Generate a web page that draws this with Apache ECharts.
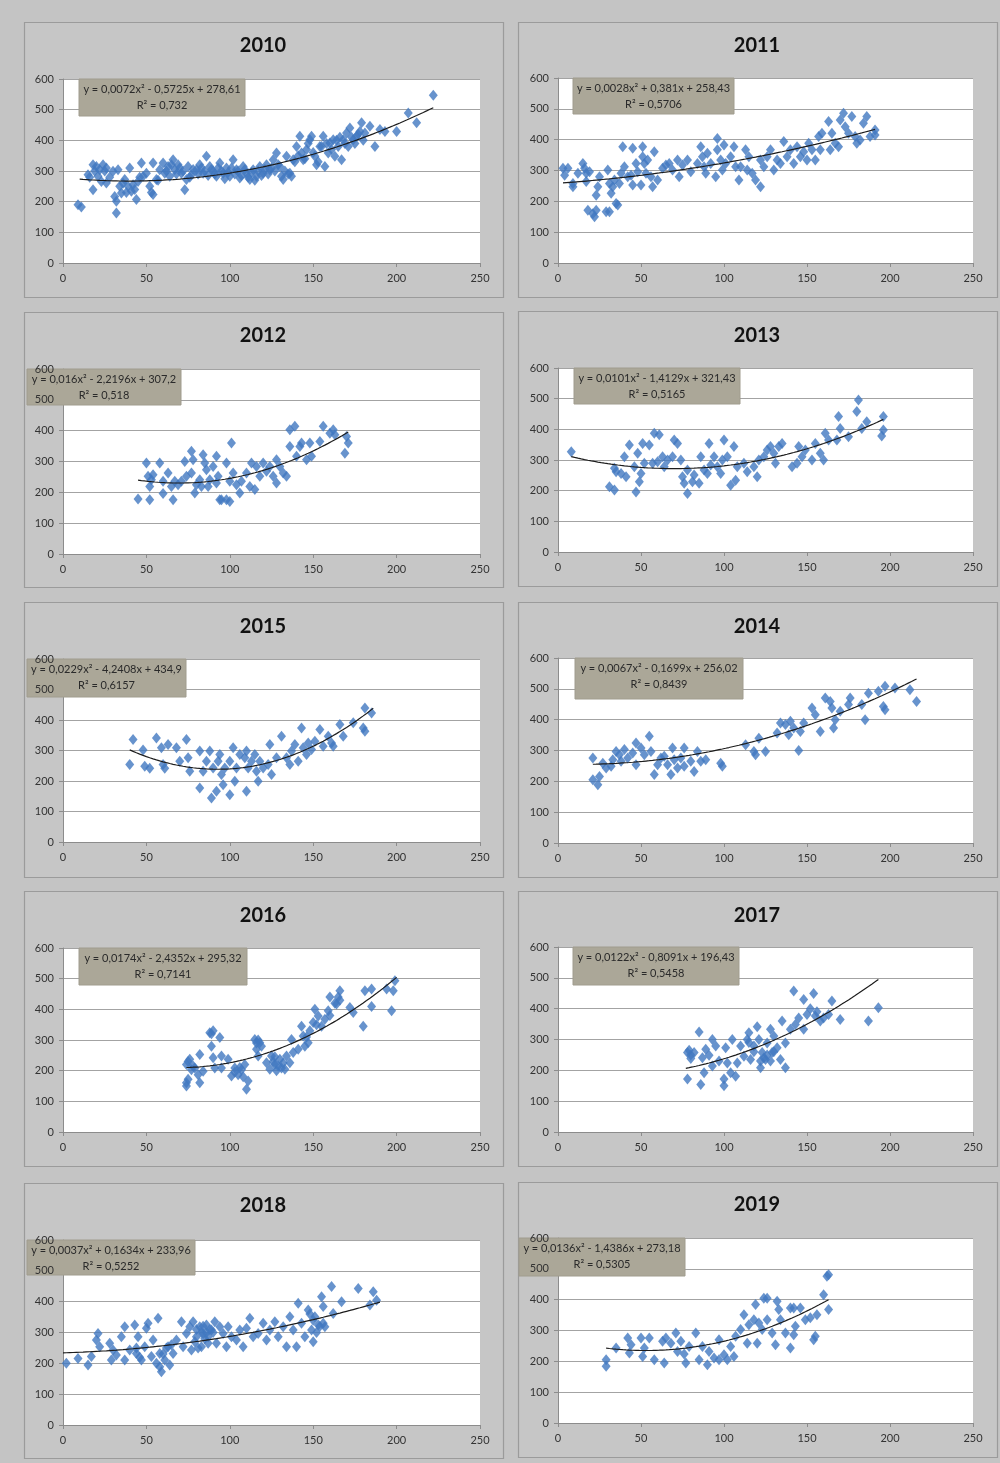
<!DOCTYPE html>
<html><head><meta charset="utf-8">
<script src="https://cdn.jsdelivr.net/npm/echarts@6/dist/echarts.min.js"></script>
<style>html,body{margin:0;padding:0;background:#c4c4c4}#c{width:1000px;height:1463px}</style>
</head><body><div id="c"></div>
<script>
// ---------------- DATA ----------------
const years = ['2010','2011','2012','2013','2015','2014','2016','2017','2018','2019'];
const xTicks = [0, 50, 100, 150, 200, 250];
const yTicks = [0, 100, 200, 300, 400, 500, 600];

// quadratic trend coefficients y = a x^2 + b x + c (as printed)
const coefA = [0.0072, 0.0028, 0.016, 0.0101, 0.0229, 0.0067, 0.0174, 0.0122, 0.0037, 0.0136];
const coefB = [-0.5725, 0.381, -2.2196, -1.4129, -4.2408, -0.1699, -2.4352, -0.8091, 0.1634, -1.4386];
const coefC = [278.61, 258.43, 307.2, 321.43, 434.9, 256.02, 295.32, 196.43, 233.96, 273.18];
const rSquared = ['0,732', '0,5706', '0,518', '0,5165', '0,6157', '0,8439', '0,7141', '0,5458', '0,5252', '0,5305'];
const fitFrom = [10, 3, 45, 8, 40, 21, 74, 77, 0, 29];
const fitTo = [222, 191, 171, 196, 186, 216, 200, 193, 190, 163];

const pts2010 = [[9,190],[11,183],[15,288],[16,280],[18,320],[18,239],[19,300],[20,315],[21,283],[22,304],[23,266],[24,320],[25,300],[26,261],[26,310],[28,280],[30,299],[31,217],[32,201],[32,163],[33,304],[34,250],[35,228],[36,260],[37,272],[38,230],[39,250],[40,310],[41,234],[42,255],[43,240],[44,207],[45,266],[46,280],[47,326],[48,283],[50,293],[52,250],[53,230],[54,223],[54,326],[56,272],[57,270],[58,304],[60,326],[61,293],[62,300],[63,315],[64,283],[65,320],[66,337],[67,304],[68,290],[69,320],[70,310],[71,293],[72,300],[73,239],[74,272],[75,315],[76,280],[77,288],[78,305],[80,304],[81,290],[82,320],[83,310],[84,293],[85,300],[86,348],[87,285],[88,315],[89,305],[90,299],[91,290],[92,283],[93,310],[94,326],[95,300],[96,293],[97,275],[98,310],[99,295],[100,283],[101,310],[102,337],[103,290],[104,304],[105,300],[106,277],[107,285],[108,315],[109,305],[110,293],[111,280],[112,272],[113,295],[114,304],[115,270],[116,283],[117,300],[118,315],[119,285],[120,293],[121,305],[122,320],[123,290],[124,304],[125,310],[126,337],[127,300],[128,359],[129,320],[130,315],[131,283],[132,272],[133,300],[134,348],[135,290],[136,293],[137,283],[138,337],[139,330],[140,380],[141,350],[142,413],[143,359],[144,337],[145,340],[146,370],[147,390],[148,402],[149,413],[150,360],[151,348],[152,320],[153,330],[154,380],[155,380],[156,413],[157,315],[158,390],[159,359],[160,391],[161,370],[162,402],[163,348],[164,400],[165,380],[166,410],[167,337],[168,402],[169,390],[170,424],[171,380],[172,440],[173,410],[174,402],[175,390],[176,413],[177,420],[178,429],[179,457],[180,400],[181,424],[184,446],[187,380],[190,435],[193,429],[200,429],[207,489],[212,457],[222,547]];
const pts2011 = [[3,307],[4,285],[6,307],[9,247],[9,258],[12,291],[15,323],[16,307],[17,291],[17,264],[18,171],[19,296],[21,160],[22,150],[23,171],[23,220],[24,247],[25,280],[29,166],[31,166],[30,302],[31,258],[32,226],[33,247],[34,269],[35,193],[36,188],[37,258],[38,291],[39,377],[40,312],[42,280],[44,285],[45,372],[45,253],[47,323],[48,296],[50,253],[51,377],[51,345],[52,323],[53,291],[54,334],[56,280],[57,247],[58,361],[60,269],[63,307],[65,318],[67,323],[69,302],[72,334],[73,280],[75,318],[78,334],[80,296],[84,323],[86,377],[87,345],[88,312],[89,291],[90,356],[92,323],[95,280],[96,404],[96,367],[98,334],[99,302],[100,383],[101,323],[104,345],[106,377],[107,312],[109,269],[110,312],[113,367],[114,302],[115,345],[117,291],[119,269],[122,247],[122,334],[124,312],[126,345],[128,367],[130,302],[132,334],[134,323],[136,394],[138,345],[140,367],[142,323],[144,377],[146,345],[148,361],[150,334],[151,388],[153,367],[155,334],[157,410],[158,367],[159,421],[163,459],[164,367],[165,421],[167,388],[169,377],[170,464],[172,486],[173,442],[175,421],[177,475],[179,410],[180,388],[182,399],[184,453],[186,475],[188,410],[191,431],[191,415]];
const pts2012 = [[45,178],[50,295],[51,252],[52,219],[52,176],[53,241],[54,257],[58,295],[60,236],[60,196],[63,263],[65,219],[66,176],[67,236],[69,225],[71,236],[73,300],[74,252],[77,333],[77,263],[78,306],[79,198],[80,225],[82,241],[83,219],[84,322],[85,295],[86,273],[87,219],[88,241],[90,284],[92,317],[92,230],[93,252],[94,176],[95,176],[98,176],[98,295],[100,170],[100,236],[101,360],[102,263],[104,225],[106,198],[107,236],[110,263],[112,219],[113,295],[115,209],[116,284],[118,252],[120,295],[122,268],[124,284],[126,252],[128,230],[128,306],[130,284],[132,263],[134,252],[136,349],[136,403],[139,414],[140,317],[142,349],[143,360],[146,306],[148,360],[149,317],[154,365],[156,414],[160,392],[162,403],[163,387],[169,327],[170,381],[171,360]];
const pts2013 = [[8,327],[31,213],[34,202],[34,273],[35,262],[38,256],[40,311],[41,245],[43,349],[46,278],[47,196],[48,322],[49,229],[50,256],[51,354],[52,289],[55,349],[57,289],[58,387],[60,294],[61,382],[63,311],[64,278],[66,300],[69,311],[70,365],[72,354],[74,300],[75,245],[76,224],[78,191],[78,267],[81,229],[82,251],[85,224],[86,311],[88,267],[90,256],[91,354],[92,284],[94,311],[96,278],[98,256],[99,300],[100,365],[102,311],[104,218],[106,344],[107,234],[108,278],[112,289],[114,262],[118,278],[120,245],[121,300],[124,311],[126,333],[128,344],[130,322],[131,289],[133,344],[135,354],[141,278],[144,289],[145,344],[147,311],[149,333],[153,300],[155,354],[158,322],[160,300],[161,387],[163,365],[168,365],[169,442],[170,403],[175,376],[180,458],[181,496],[183,403],[186,425],[196,442],[196,398],[195,378]];
const pts2015 = [[40,254],[42,336],[48,302],[49,248],[52,242],[56,341],[59,309],[60,254],[61,242],[63,320],[68,309],[70,265],[74,336],[75,276],[76,232],[82,298],[82,177],[84,232],[86,265],[88,298],[89,144],[90,243],[92,166],[93,265],[94,287],[95,221],[96,188],[97,243],[100,155],[100,265],[102,309],[103,199],[104,243],[106,287],[109,276],[110,298],[110,166],[111,243],[113,265],[115,287],[116,232],[117,199],[118,265],[120,243],[123,254],[124,320],[125,221],[128,276],[131,347],[134,276],[136,254],[137,298],[139,320],[141,265],[143,374],[144,309],[146,287],[147,325],[149,303],[151,330],[154,369],[156,314],[159,347],[161,325],[162,314],[166,385],[168,347],[174,391],[180,374],[181,363],[181,439],[185,423]];
const pts2014 = [[21,276],[21,205],[24,189],[25,216],[27,259],[29,243],[32,249],[33,270],[35,297],[37,286],[38,265],[40,303],[42,276],[45,292],[47,324],[47,254],[50,308],[52,286],[55,346],[56,297],[58,222],[60,254],[62,276],[64,281],[66,254],[68,222],[69,308],[70,270],[72,243],[74,276],[76,308],[76,249],[80,265],[82,232],[84,297],[86,265],[89,270],[98,259],[99,249],[113,319],[118,297],[119,286],[121,340],[125,297],[132,357],[134,389],[137,384],[139,351],[140,395],[142,373],[145,300],[146,362],[148,389],[153,438],[155,416],[158,362],[161,470],[164,459],[165,438],[166,373],[167,400],[170,427],[175,449],[176,470],[183,449],[185,400],[187,486],[193,492],[196,443],[197,432],[197,508],[203,503],[212,497],[216,459]];
const pts2016 = [[74,220],[74,161],[75,172],[76,237],[77,203],[79,209],[81,187],[82,253],[82,161],[84,198],[88,324],[89,280],[90,242],[91,209],[94,308],[95,248],[95,209],[99,237],[101,183],[103,209],[105,187],[107,203],[109,220],[110,139],[111,166],[115,302],[116,270],[117,248],[118,291],[122,226],[124,205],[125,248],[127,220],[128,200],[130,237],[131,209],[134,248],[136,226],[137,302],[138,259],[141,270],[143,345],[144,313],[145,280],[147,291],[150,357],[151,400],[153,378],[155,345],[157,368],[159,395],[160,440],[164,417],[165,440],[166,461],[172,406],[174,390],[180,345],[181,461],[185,466],[185,409],[194,466],[197,395],[198,461],[199,493],[126,230],[129,215],[132,225],[127,245],[133,205],[117,300],[116,290],[119,280],[89,320],[90,330],[74,150],[75,230],[78,215],[103,195],[106,210],[108,180],[148,330],[146,310],[152,350],[160,380],[163,420],[166,430]];
const pts2017 = [[78,172],[78,258],[80,238],[82,258],[85,324],[86,154],[87,241],[88,192],[89,268],[91,249],[93,300],[93,214],[95,279],[97,230],[100,172],[100,150],[101,273],[102,224],[104,192],[105,300],[107,181],[108,224],[110,279],[112,246],[114,300],[115,322],[116,235],[118,279],[120,341],[121,300],[122,208],[123,258],[125,235],[126,289],[128,333],[129,258],[130,311],[132,273],[134,235],[135,360],[137,208],[137,289],[140,333],[142,457],[143,349],[145,370],[148,333],[148,430],[150,381],[154,449],[155,376],[158,360],[163,381],[165,425],[170,365],[187,360],[193,403],[80,250],[79,265],[124,240],[126,250],[128,230],[130,260],[122,230],[115,290],[118,260],[152,400],[156,390],[160,370]];
const pts2018 = [[2,200],[9,216],[15,195],[17,222],[20,276],[21,297],[22,254],[28,265],[29,211],[30,243],[32,227],[35,286],[37,319],[37,211],[40,243],[43,324],[44,232],[45,286],[47,211],[49,254],[50,314],[51,330],[53,222],[54,276],[57,346],[58,189],[58,232],[59,173],[61,211],[63,254],[64,195],[66,232],[68,276],[71,335],[72,254],[74,297],[76,319],[77,243],[78,335],[80,286],[82,319],[83,254],[84,297],[86,324],[87,286],[89,308],[91,335],[92,265],[94,319],[96,297],[98,254],[99,319],[101,286],[104,276],[106,308],[108,254],[110,314],[112,346],[114,286],[117,297],[120,330],[122,276],[124,308],[127,335],[129,286],[132,319],[134,254],[136,351],[138,308],[140,254],[141,395],[143,330],[145,286],[147,373],[149,308],[150,270],[151,351],[153,324],[155,416],[156,384],[157,319],[161,449],[162,362],[167,400],[177,443],[184,389],[186,432],[188,405],[80,310],[83,300],[85,280],[86,300],[88,310],[84,320],[79,270],[81,250],[87,265],[90,300],[60,230],[62,250],[56,200],[65,260],[44,250],[46,220],[150,340],[152,300],[148,360],[154,320],[156,330]];
const pts2019 = [[29,205],[29,184],[35,243],[42,276],[43,227],[44,254],[50,276],[51,216],[52,243],[55,276],[58,205],[63,265],[64,195],[65,276],[68,259],[71,292],[72,232],[74,265],[76,224],[77,195],[79,248],[83,292],[85,205],[87,248],[90,189],[91,232],[94,211],[97,205],[97,270],[100,221],[102,205],[104,248],[106,216],[107,281],[110,303],[112,351],[114,259],[115,319],[118,335],[119,384],[120,259],[121,324],[123,303],[124,405],[126,405],[126,335],[129,292],[131,254],[132,395],[133,368],[134,335],[137,292],[140,373],[140,243],[142,373],[142,286],[143,314],[146,373],[149,335],[152,341],[154,270],[155,281],[156,351],[160,416],[162,476],[163,481],[163,368]];
const pointSets = [pts2010, pts2011, pts2012, pts2013, pts2015, pts2014, pts2016, pts2017, pts2018, pts2019];

// ---------------- LAYOUT (positions / styles only) ----------------
const layout = [
  {bx:24, by:22,  gl:63,  gt:79,   gh:184, tx:263, tt:36,   ex:79,  ey:79,   ew:166, eh:37},
  {bx:518,by:22,  gl:558, gt:78,   gh:185, tx:757, tt:36,   ex:573, ey:78,   ew:161, eh:36},
  {bx:24, by:312, gl:63,  gt:369,  gh:185, tx:263, tt:326,  ex:27,  ey:369,  ew:154, eh:36},
  {bx:518,by:311, gl:558, gt:368,  gh:184, tx:757, tt:326,  ex:574, ey:368,  ew:166, eh:36},
  {bx:24, by:602, gl:63,  gt:659,  gh:183, tx:263, tt:617,  ex:27,  ey:659,  ew:159, eh:38},
  {bx:518,by:602, gl:558, gt:658,  gh:185, tx:757, tt:617,  ex:575, ey:658,  ew:168, eh:41},
  {bx:24, by:891, gl:63,  gt:948,  gh:184, tx:263, tt:906,  ex:79,  ey:948,  ew:168, eh:37},
  {bx:518,by:891, gl:558, gt:947,  gh:185, tx:757, tt:906,  ex:573, ey:947,  ew:166, eh:38},
  {bx:24, by:1183,gl:63,  gt:1240, gh:185, tx:263, tt:1196, ex:27,  ey:1240, ew:168, eh:35},
  {bx:518,by:1182,gl:558, gt:1238, gh:185, tx:757, tt:1195, ex:519, ey:1238, ew:166, eh:38}
];
const boxW = 479, boxH = 275;
const gridWL = 417, gridWR = 415;
const FONT = 'Lato, "Open Sans", sans-serif';
const GRID_COLOR = '#a3a3a3';
const dec = v => String(Math.abs(v)).replace('.', ',');
const sgn = v => (v < 0 ? ' - ' : ' + ');

const chart = echarts.init(document.getElementById('c'));
const grids = [], xAxes = [], yAxes = [], series = [], titles = [], graphics = [];

years.forEach((yr, i) => {
  const L = layout[i];
  const isLeft = (i % 2 === 0);
  graphics.push({type:'rect', z:-10, silent:true, shape:{x:L.bx+0.5, y:L.by+0.5, width:boxW, height:boxH},
    style:{fill:'#c6c6c6', stroke:'#9b9b9b', lineWidth:1.2}});
  grids.push({left:L.gl, top:L.gt, width:isLeft?gridWL:gridWR, height:L.gh, show:true,
    backgroundColor:'#ffffff', borderWidth:0, containLabel:false});
  xAxes.push({type:'value', gridIndex:i, position:'bottom', min:xTicks[0], max:xTicks[xTicks.length-1], interval:xTicks[1]-xTicks[0],
    axisLine:{show:true, onZero:false, lineStyle:{color:'#8c8c8c', width:1}},
    axisTick:{show:true, length:4, lineStyle:{color:'#8c8c8c'}},
    axisLabel:{fontSize:11, color:'#333', fontFamily:FONT, margin:10},
    splitLine:{show:false}});
  yAxes.push({type:'value', gridIndex:i, position:'left', min:yTicks[0], max:yTicks[yTicks.length-1], interval:yTicks[1]-yTicks[0], z:0,
    axisLine:{show:true, onZero:false, lineStyle:{color:'#8c8c8c', width:1}},
    axisTick:{show:true, length:4, lineStyle:{color:'#8c8c8c'}},
    axisLabel:{show:false},
    splitLine:{show:true, lineStyle:{color:GRID_COLOR, width:1.2}}});
  yAxes.push({type:'value', gridIndex:i, position:'left', offset:0, min:yTicks[0], max:yTicks[yTicks.length-1], interval:yTicks[1]-yTicks[0], z:6,
    axisLine:{show:false, onZero:false}, axisTick:{show:false}, splitLine:{show:false},
    axisLabel:{show:true, fontSize:11, color:'#333', fontFamily:FONT, margin:9}});
  titles.push({text:yr, left:L.tx, top:L.tt, textAlign:'center', padding:0,
    textStyle:{fontSize:20, fontWeight:'bold', color:'#111', fontFamily:FONT}});
  // equation box
  graphics.push({type:'rect', z:1, silent:true, shape:{x:L.ex, y:L.ey, width:L.ew, height:L.eh},
    style:{fill:'#aba798', stroke:'#a09c8e', lineWidth:1}});
  const eq = 'y = ' + dec(coefA[i]) + 'x²' + sgn(coefB[i]) + dec(coefB[i]) + 'x' + sgn(coefC[i]) + dec(coefC[i]);
  graphics.push({type:'text', z:2, silent:true, x:L.ex + L.ew/2, y:L.ey + 10,
    style:{text:eq, fill:'#2a2a2a', font:'11px ' + FONT, textAlign:'center', textVerticalAlign:'middle'}});
  graphics.push({type:'text', z:2, silent:true, x:L.ex + L.ew/2, y:L.ey + 26,
    style:{text:'R² = ' + rSquared[i], fill:'#2a2a2a', font:'11px ' + FONT, textAlign:'center', textVerticalAlign:'middle'}});
  // scatter
  series.push({type:'scatter', xAxisIndex:i, yAxisIndex:2*i, data:pointSets[i], symbol:'diamond', symbolSize:[9,11],
    itemStyle:{color:'#4178c0'}, z:3, silent:true});
  // trend line from printed coefficients
  const fit = [];
  for (let x = fitFrom[i]; x <= fitTo[i] + 0.001; x += 2) {
    fit.push([x, coefA[i]*x*x + coefB[i]*x + coefC[i]]);
  }
  const xe = fitTo[i];
  fit.push([xe, coefA[i]*xe*xe + coefB[i]*xe + coefC[i]]);
  series.push({type:'line', xAxisIndex:i, yAxisIndex:2*i, data:fit, showSymbol:false, symbol:'none', smooth:false,
    lineStyle:{color:'#1c1c1c', width:1.2}, z:4, silent:true});
});

chart.setOption({
  animation:false,
  backgroundColor:'#c4c4c4',
  title:titles, grid:grids, xAxis:xAxes, yAxis:yAxes, series:series,
  graphic:{elements:graphics}
});
</script></body></html>
